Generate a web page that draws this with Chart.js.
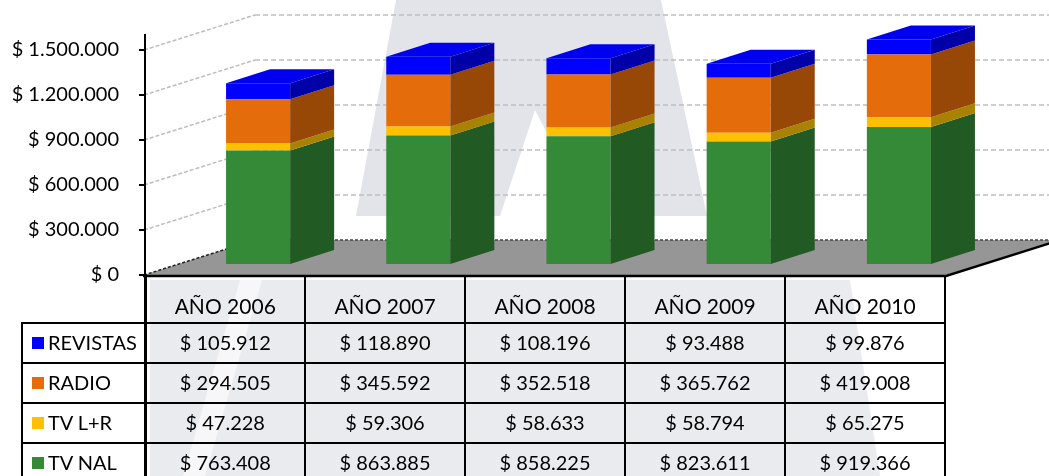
<!DOCTYPE html>
<html lang="es">
<head>
    <meta charset="UTF-8">
    <title>Inversión por medio</title>
    <style>
        body {
            margin: 0;
            background: #fff;
            font-family: Lato, "Open Sans", sans-serif;
        }
        #wrap {
            position: relative;
            width: 1049px;
            height: 476px;
            overflow: hidden;
        }
        #chart {
            position: absolute;
            left: 0;
            top: 0;
        }
        #dataTable {
            position: absolute;
            left: 21px;
            top: 276px;
            border-collapse: collapse;
            font-size: 20px;
            color: #000;
            table-layout: fixed;
        }
        #dataTable td {
            border: 2px solid #000;
            height: 35px;
            padding: 0 0 3px 0;
            text-align: center;
            white-space: nowrap;
        }
        #dataTable tr.head td {
            height: 42px;
            border-top: none;
            vertical-align: bottom;
            padding-bottom: 4px;
            font-size: 21px;
        }
        #dataTable tr.head td.blank {
            border-left: none;
            border-bottom: 2px solid #000;
        }
        #dataTable td.name {
            text-align: left;
            padding-left: 9px;
        }
        #dataTable td.yearcol {
            border-left-width: 3px;
        }
        .sq {
            display: inline-block;
            width: 12px;
            height: 12px;
            margin-right: 4px;
            vertical-align: 1px;
        }
    </style>
</head>
<body>
<div id="wrap">
    <canvas id="chart" width="1049" height="476"></canvas>
    <table id="dataTable"></table>
</div>

<script src="https://cdn.jsdelivr.net/npm/chart.js"></script>
<script>
    const years = ['AÑO 2006', 'AÑO 2007', 'AÑO 2008', 'AÑO 2009', 'AÑO 2010'];
    const revistas = [105912, 118890, 108196, 93488, 99876];
    const radio = [294505, 345592, 352518, 365762, 419008];
    const tvLR = [47228, 59306, 58633, 58794, 65275];
    const tvNal = [763408, 863885, 858225, 823611, 919366];
    const yTicks = [0, 300000, 600000, 900000, 1200000, 1500000];

    // efecto 3D
    const DEPTH_X = 111, DEPTH_Y = -35;   // fondo del piso / pared
    const SHIFT_X = 33, SHIFT_Y = -10;    // donde arrancan las barras
    const SIDE_X = 44, SIDE_Y = -14;      // profundidad de la barra

    function money(n) {
        return '$ ' + String(n).replace(/\B(?=(\d{3})+(?!\d))/g, '.');
    }

    // orden de la pila: abajo hacia arriba
    const series = [
        { label: 'TV NAL', data: tvNal, front: '#348a37', side: '#225a23', top: '#3a9a3d' },
        { label: 'TV L+R', data: tvLR, front: '#ffc000', side: '#a88200', top: '#ffd040' },
        { label: 'RADIO', data: radio, front: '#e46c0a', side: '#974806', top: '#f08030' },
        { label: 'REVISTAS', data: revistas, front: '#0000ff', side: '#0000a8', top: '#0000f0' }
    ];

    // tabla de abajo
    const table = document.getElementById('dataTable');
    let html = '<colgroup><col style="width:123px">' + years.map(() => '<col style="width:160px">').join('') + '</colgroup>';
    html += '<tr class="head"><td class="blank"></td>' + years.map((y, i) => '<td' + (i === 0 ? ' class="yearcol"' : '') + '>' + y + '</td>').join('') + '</tr>';
    series.slice().reverse().forEach(s => {
        html += '<tr><td class="name"><span class="sq" style="background:' + s.front + '"></span>' + s.label + '</td>' +
            s.data.map((v, i) => '<td' + (i === 0 ? ' class="yearcol"' : '') + '>' + money(v) + '</td>').join('') + '</tr>';
    });
    table.innerHTML = html;

    function dashed(ctx, pts, color, width, dash) {
        ctx.save();
        ctx.strokeStyle = color;
        ctx.lineWidth = width;
        ctx.setLineDash(dash);
        ctx.beginPath();
        ctx.moveTo(pts[0], pts[1]);
        ctx.lineTo(pts[2], pts[3]);
        ctx.stroke();
        ctx.restore();
    }

    // fondo, marca de agua, paredes y piso
    const backdrop = {
        id: 'backdrop',
        beforeDraw(chart) {
            const ctx = chart.ctx;
            const ys = chart.scales.y;
            const xs = chart.scales.x;
            const left = xs.left - 1, right = xs.right;
            const y0 = ys.getPixelForValue(0);

            ctx.save();
            // marca de agua tenue (arriba)
            ctx.fillStyle = '#e2e4ea';
            ctx.beginPath();
            ctx.moveTo(396, 0); ctx.lineTo(661, 0); ctx.lineTo(707, 216);
            ctx.lineTo(590, 216); ctx.lineTo(535, 110); ctx.lineTo(500, 216);
            ctx.lineTo(356, 216);
            ctx.closePath();
            ctx.fill();
            // marca de agua tenue (tabla)
            ctx.fillStyle = '#eaebef';
            ctx.beginPath();
            ctx.moveTo(150, 280); ctx.lineTo(850, 280); ctx.lineTo(880, 476); ctx.lineTo(150, 476);
            ctx.closePath();
            ctx.fill();
            ctx.fillStyle = 'rgba(255,255,255,0.6)';
            ctx.beginPath();
            ctx.moveTo(240, 280); ctx.lineTo(262, 280); ctx.lineTo(205, 476); ctx.lineTo(183, 476);
            ctx.closePath();
            ctx.fill();

            // lineas de pared lateral y de fondo
            yTicks.forEach(v => {
                if (v === 0) return;
                const py = ys.getPixelForValue(v);
                dashed(ctx, [left, py, left + DEPTH_X, py + DEPTH_Y], '#bdbdbd', 1.5, [4, 2]);
                dashed(ctx, [left + DEPTH_X, py + DEPTH_Y, chart.width, py + DEPTH_Y], '#bdbdbd', 1.5, [5, 3]);
            });

            // piso
            ctx.fillStyle = '#969696';
            ctx.beginPath();
            ctx.moveTo(left, y0);
            ctx.lineTo(right, y0);
            ctx.lineTo(right + DEPTH_X, y0 + DEPTH_Y);
            ctx.lineTo(left + DEPTH_X, y0 + DEPTH_Y);
            ctx.closePath();
            ctx.fill();
            dashed(ctx, [left, y0, left + DEPTH_X, y0 + DEPTH_Y], '#222', 1.5, [3, 2]);
            dashed(ctx, [left + DEPTH_X, y0 + DEPTH_Y, chart.width, y0 + DEPTH_Y], '#444', 1.5, [3, 2]);
            ctx.restore();
        },
        beforeDatasetsDraw(chart) {
            chart.ctx.save();
            chart.ctx.translate(SHIFT_X, SHIFT_Y);
        },
        afterDatasetsDraw(chart) {
            const ctx = chart.ctx;
            // caras laterales y tapa
            chart.data.datasets.forEach((ds, di) => {
                const meta = chart.getDatasetMeta(di);
                const s = series[di];
                meta.data.forEach(bar => {
                    const p = bar.getProps(['x', 'y', 'base', 'width'], true);
                    const r = p.x + p.width / 2, l = p.x - p.width / 2;
                    ctx.fillStyle = s.side;
                    ctx.beginPath();
                    ctx.moveTo(r, p.base);
                    ctx.lineTo(r, p.y);
                    ctx.lineTo(r + SIDE_X, p.y + SIDE_Y);
                    ctx.lineTo(r + SIDE_X, p.base + SIDE_Y);
                    ctx.closePath();
                    ctx.fill();
                    if (di === series.length - 1) {
                        ctx.fillStyle = s.top;
                        ctx.beginPath();
                        ctx.moveTo(l, p.y);
                        ctx.lineTo(r, p.y);
                        ctx.lineTo(r + SIDE_X, p.y + SIDE_Y);
                        ctx.lineTo(l + SIDE_X, p.y + SIDE_Y);
                        ctx.closePath();
                        ctx.fill();
                    }
                });
            });
            ctx.restore();
        },
        afterDraw(chart) {
            const ctx = chart.ctx;
            const xs = chart.scales.x;
            const y0 = chart.scales.y.getPixelForValue(0);
            ctx.save();
            ctx.strokeStyle = '#000';
            ctx.lineWidth = 2.5;
            ctx.beginPath();
            ctx.moveTo(xs.left - 2, y0 + 1);
            ctx.lineTo(xs.right, y0 + 1);
            ctx.lineTo(xs.right + DEPTH_X, y0 + 1 + DEPTH_Y);
            ctx.stroke();
            ctx.restore();
        }
    };

    const ctx = document.getElementById('chart').getContext('2d');
    const chart = new Chart(ctx, {
        type: 'bar',
        data: {
            labels: years,
            datasets: series.map(s => ({
                label: s.label,
                data: s.data,
                backgroundColor: s.front,
                borderWidth: 0,
                barPercentage: 0.4,
                categoryPercentage: 1
            }))
        },
        options: {
            responsive: false,
            animation: false,
            layout: {
                padding: { left: 0, right: 103, top: 35, bottom: 201 }
            },
            plugins: {
                legend: { display: false },
                tooltip: { enabled: false }
            },
            scales: {
                x: {
                    stacked: true,
                    display: false
                },
                y: {
                    stacked: true,
                    min: 0,
                    max: 1600000,
                    afterBuildTicks: scale => {
                        scale.ticks = yTicks.map(v => ({ value: v }));
                    },
                    afterFit: scale => {
                        scale.width = 145;
                    },
                    ticks: {
                        color: '#000',
                        padding: 20,
                        font: { family: 'Lato', size: 20 },
                        callback: v => money(v)
                    },
                    grid: {
                        drawOnChartArea: false,
                        drawTicks: true,
                        tickLength: 6,
                        color: '#000',
                        lineWidth: 2
                    },
                    border: { display: true, color: '#000', width: 2 }
                }
            }
        },
        plugins: [backdrop]
    });
</script>
</body>
</html>
